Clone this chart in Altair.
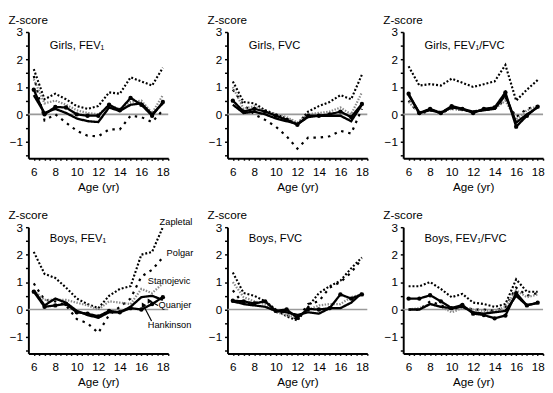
import altair as alt
import pandas as pd

ages = list(range(6, 19))
studies = ["Zapletal", "Polgar", "Stanojevic", "Quanjer", "Hankinson"]
panel_titles = ["Girls, FEV₁", "Girls, FVC", "Girls, FEV₁/FVC",
                "Boys, FEV₁", "Boys, FVC", "Boys, FEV₁/FVC"]

# Girls FEV1
gf1_zapletal = [1.65, 0.55, 0.75, 0.55, 0.3, 0.2, 0.3, 0.8, 0.75, 1.35, 1.2, 1.05, 1.7]
gf1_polgar = [1.4, -0.22, 0.0, -0.3, -0.6, -0.78, -0.8, -0.55, -0.55, -0.05, -0.1, -0.28, 0.15]
gf1_stanojevic = [1.28, 0.4, 0.5, 0.35, 0.15, 0.05, 0.0, 0.3, 0.2, 0.45, 0.5, 0.05, 0.7]
gf1_quanjer = [0.9, 0.0, 0.27, 0.25, 0.0, -0.05, -0.05, 0.35, 0.15, 0.6, 0.35, -0.05, 0.45]
gf1_hankinson = [0.7, 0.05, 0.2, 0.05, -0.15, -0.25, -0.28, 0.25, 0.12, 0.35, 0.4, 0.0, 0.4]
# Girls FVC
gfv_zapletal = [1.2, 0.45, 0.4, 0.15, 0.0, -0.15, -0.35, 0.1, 0.3, 0.45, 0.7, 0.55, 1.45]
gfv_polgar = [0.9, 0.35, 0.0, -0.2, -0.45, -0.8, -1.25, -0.85, -0.85, -0.8, -0.6, -0.7, 0.2]
gfv_stanojevic = [1.0, 0.2, 0.3, 0.1, 0.0, -0.1, -0.3, 0.0, 0.05, 0.1, 0.25, 0.0, 0.8]
gfv_quanjer = [0.5, 0.1, 0.2, 0.1, -0.05, -0.2, -0.38, -0.05, -0.05, 0.0, 0.1, -0.1, 0.38]
gfv_hankinson = [0.35, 0.05, 0.1, 0.0, -0.15, -0.25, -0.35, -0.1, -0.05, -0.05, -0.05, -0.25, 0.35]
# Girls FEV1/FVC
grt_zapletal = [1.75, 1.05, 1.1, 1.05, 1.3, 1.15, 1.0, 1.1, 1.2, 1.8, 0.5, 0.9, 1.25]
grt_polgar = [0.5, 0.0, 0.15, 0.05, 0.2, 0.15, 0.1, 0.15, 0.2, 0.55, -0.1, 0.2, 0.3]
grt_stanojevic = [0.45, 0.05, 0.15, 0.1, 0.2, 0.15, 0.1, 0.2, 0.2, 0.5, -0.2, 0.15, 0.3]
grt_quanjer = [0.75, 0.05, 0.2, 0.05, 0.3, 0.2, 0.05, 0.2, 0.25, 0.8, -0.45, -0.05, 0.28]
grt_hankinson = [0.7, 0.05, 0.15, 0.05, 0.25, 0.2, 0.1, 0.15, 0.2, 0.7, -0.3, 0.0, 0.25]
# Boys FEV1
bf1_zapletal = [2.1, 1.3, 1.15, 0.8, 0.4, 0.2, 0.05, 0.5, 0.75, 0.85, 2.0, 2.1, 3.0]
bf1_polgar = [0.95, 0.35, 0.3, 0.15, -0.35, -0.5, -0.85, -0.2, 0.1, 0.4, 1.2, 1.45, 1.9]
bf1_stanojevic = [0.7, 0.35, 0.35, 0.35, 0.25, 0.15, 0.0, 0.3, 0.25, 0.2, 0.75, 0.6, 0.95]
bf1_quanjer = [0.65, 0.1, 0.15, 0.2, -0.1, -0.15, -0.25, -0.05, -0.1, 0.05, 0.0, 0.2, 0.45]
bf1_hankinson = [0.7, 0.15, 0.4, 0.25, -0.05, -0.2, -0.3, -0.1, -0.1, 0.1, 0.45, 0.5, 0.35]
# Boys FVC
bfv_zapletal = [1.35, 0.6, 0.5, 0.3, 0.0, -0.25, -0.4, 0.1, 0.6, 0.85, 1.05, 1.5, 1.9]
bfv_polgar = [0.7, 0.2, 0.25, 0.3, -0.05, -0.2, -0.35, 0.2, 0.3, 0.8, 1.0, 1.35, 1.85]
bfv_stanojevic = [1.0, 0.45, 0.3, 0.2, -0.1, -0.2, -0.3, 0.0, 0.15, 0.2, 0.2, 0.45, 0.55]
bfv_quanjer = [0.32, 0.3, 0.22, 0.3, -0.05, 0.0, -0.3, 0.02, 0.0, 0.05, 0.55, 0.4, 0.55]
bfv_hankinson = [0.3, 0.2, 0.15, 0.1, -0.05, -0.1, -0.2, -0.1, -0.15, 0.05, 0.05, 0.25, 0.6]
# Boys FEV1/FVC
brt_zapletal = [0.85, 0.85, 1.0, 0.75, 0.45, 0.57, 0.25, 0.2, 0.1, 0.2, 1.1, 0.65, 0.65]
brt_polgar = [0.0, 0.0, 0.3, 0.15, 0.0, 0.1, 0.0, 0.0, -0.05, 0.1, 0.8, 0.5, 0.6]
brt_stanojevic = [0.0, 0.05, 0.2, 0.1, -0.1, 0.05, 0.0, -0.05, -0.05, 0.1, 0.7, 0.45, 0.55]
brt_quanjer = [0.4, 0.4, 0.52, 0.3, 0.05, 0.17, -0.15, -0.2, -0.32, -0.22, 0.6, 0.15, 0.25]
brt_hankinson = [0.0, 0.0, 0.2, 0.1, 0.05, 0.1, -0.1, -0.15, -0.1, -0.05, 0.5, 0.15, 0.25]

# study labels in the Boys FEV1 panel (data coordinates)
label_names = ["Zapletal", "Polgar", "Stanojevic", "Quanjer", "Hankinson"]
label_age = [17.7, 18.35, 16.6, 17.6, 16.6]
label_z = [3.2, 2.05, 1.03, 0.17, -0.55]
# pointer lines for Quanjer and Hankinson
arrow_age = [17.55, 16.95]
arrow_z = [0.15, -0.42]
arrow_age2 = [16.7, 16.15]
arrow_z2 = [0.33, 0.18]

panel_series = [
    [gf1_zapletal, gf1_polgar, gf1_stanojevic, gf1_quanjer, gf1_hankinson],
    [gfv_zapletal, gfv_polgar, gfv_stanojevic, gfv_quanjer, gfv_hankinson],
    [grt_zapletal, grt_polgar, grt_stanojevic, grt_quanjer, grt_hankinson],
    [bf1_zapletal, bf1_polgar, bf1_stanojevic, bf1_quanjer, bf1_hankinson],
    [bfv_zapletal, bfv_polgar, bfv_stanojevic, bfv_quanjer, bfv_hankinson],
    [brt_zapletal, brt_polgar, brt_stanojevic, brt_quanjer, brt_hankinson],
]

FONT = "Liberation Sans"
W, H = 144, 130

x_scale = alt.Scale(domain=[5.5, 18.5], nice=False, zero=False)
y_scale = alt.Scale(domain=[-1.6, 3.0], nice=False, zero=False)

x_axis = alt.Axis(
    values=[v / 2 for v in range(12, 38)],
    labelExpr="datum.value % 2 == 0 ? format(datum.value, 'd') : ''",
    title="Age (yr)", grid=False, tickSize=2, tickWidth=1.5,
    labelOverlap=False, labelFlush=False, labelPadding=7,
    titlePadding=4, labelFontSize=12, titleFontSize=12,
    titleFontWeight="normal", labelFont=FONT, titleFont=FONT,
)
y_axis = alt.Axis(
    values=[v / 2 for v in range(-3, 7)],
    labelExpr="datum.value % 1 == 0 ? format(datum.value, 'd') : ''",
    title="Z-score", titleAngle=0, titleAlign="left", titleBaseline="bottom",
    titleX=-21, titleY=-6, grid=False, tickSize=3, tickWidth=1.5,
    labelOverlap=False, labelFlush=False, labelPadding=3,
    labelFontSize=12, titleFontSize=12,
    titleFontWeight="normal", labelFont=FONT, titleFont=FONT,
)

X = alt.X("age:Q", scale=x_scale, axis=x_axis)
Y = alt.Y("z:Q", scale=y_scale, axis=y_axis)

dash_range = [[2, 2], [2.5, 5], [1.5, 1.5], [1, 0], [1, 0]]
color_range = ["#000000", "#000000", "#8a8a8a", "#000000", "#000000"]
width_range = [2.2, 2.4, 1.5, 2.0, 1.0]


def make_panel(i):
    rows = []
    for s, vals in zip(studies, panel_series[i]):
        for a, v in zip(ages, vals):
            rows.append({"study": s, "age": a, "z": v})
    df = pd.DataFrame(rows)

    zero = alt.Chart(pd.DataFrame({"z": [0]})).mark_rule(
        color="#9a9a9a", strokeWidth=1.6
    ).encode(y=Y)

    lines = alt.Chart(df).mark_line(strokeCap="butt").encode(
        x=X, y=Y,
        color=alt.Color("study:N", scale=alt.Scale(domain=studies, range=color_range), legend=None),
        strokeDash=alt.StrokeDash("study:N", scale=alt.Scale(domain=studies, range=dash_range), legend=None),
        strokeWidth=alt.StrokeWidth("study:N", scale=alt.Scale(domain=studies, range=width_range), legend=None),
        order=alt.Order("age:Q"),
    )

    pts = alt.Chart(df[df.study == "Quanjer"]).mark_circle(
        color="black", size=20, opacity=1
    ).encode(x=X, y=Y)

    title_y = 15 if i < 3 else 12
    ttl = alt.Chart(pd.DataFrame({"t": [panel_titles[i]]})).mark_text(
        align="left", baseline="middle", fontSize=11.5, font=FONT, color="black"
    ).encode(x=alt.value(22), y=alt.value(title_y), text="t:N")

    layers = [zero, lines, pts, ttl]

    if i == 3:
        lab = pd.DataFrame({"name": label_names, "age": label_age, "z": label_z})
        labels = alt.Chart(lab).mark_text(
            align="left", baseline="middle", fontSize=9.5, font=FONT, color="black"
        ).encode(x=X, y=Y, text="name:N")
        arr = pd.DataFrame({"age": arrow_age, "z": arrow_z,
                            "age2": arrow_age2, "z2": arrow_z2})
        arrows = alt.Chart(arr).mark_rule(color="black", strokeWidth=1.2).encode(
            x=X, y=Y, x2="age2:Q", y2="z2:Q"
        )
        heads = alt.Chart(arr).mark_point(
            shape="triangle-up", filled=True, color="black", size=30, opacity=1, angle=330
        ).encode(x=alt.X("age2:Q", scale=x_scale, axis=x_axis),
                 y=alt.Y("z2:Q", scale=y_scale, axis=y_axis))
        layers += [labels, arrows, heads]

    return alt.layer(*layers).properties(width=W, height=H)


charts = [make_panel(i) for i in range(6)]

chart = alt.concat(
    *charts, columns=3, spacing={"row": 17, "column": 14}, align="each",
    padding=0, background="white"
).configure_view(stroke=None).configure_axis(
    domainColor="black", domainWidth=2, tickColor="black",
    labelColor="black", titleColor="black",
    labelFont=FONT, titleFont=FONT, titleFontWeight="normal",
)

chart.save("out.html", embed_options={"renderer": "svg", "actions": False})
